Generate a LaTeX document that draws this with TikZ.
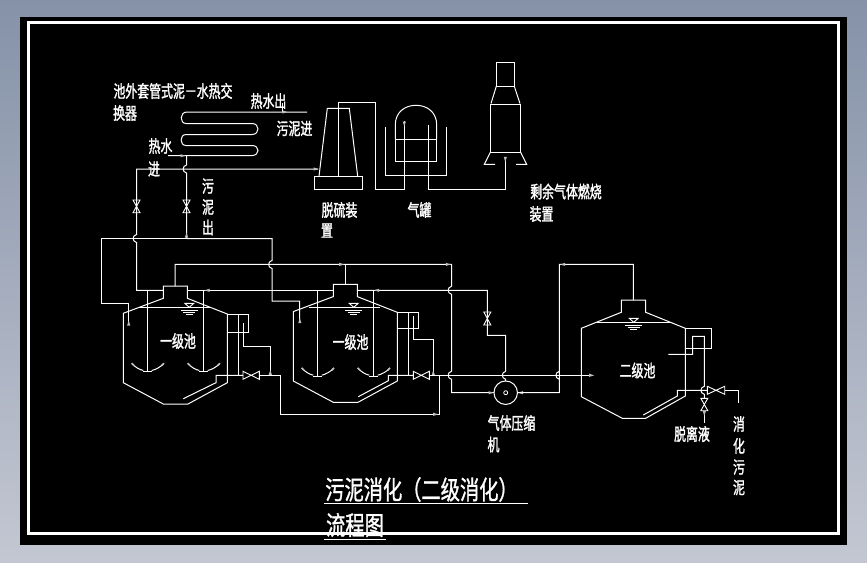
\documentclass[tikz,border=0pt]{standalone}
\usepackage{fontspec}
\newfontfamily\cjklabel[FakeStretch=0.7,FakeBold=1.6]{Noto Sans CJK SC}
\newfontfamily\cjktitle[FakeStretch=0.74,FakeBold=1.2]{Noto Sans CJK SC}
\tikzset{
  pipe/.style={draw=white,line width=1pt,line join=miter},
  lab/.style={text=white,inner sep=0pt,outer sep=0pt,font=\cjklabel\fontsize{17}{18}\selectfont},
  ttl/.style={text=white,inner sep=0pt,outer sep=0pt,font=\cjktitle\fontsize{26}{27}\selectfont},
  tipmark/.style={fill=lightgray,draw=none},
  compbody/.style={circle,draw=white,line width=1pt,minimum size=23.5pt,inner sep=0pt,outer sep=0pt}
}
% vertical pipe segment with a small jump over a crossing
\def\vj#1#2{-- (#1,#2-4) .. controls (#1-4.5,#2-3) and (#1-4.5,#2+3) .. (#1,#2+4)}
\newcommand{\hvalve}[3]{\draw[pipe,line width=.9pt] (#1,#3-4) -- (#2,#3+4) -- (#2,#3-4) -- (#1,#3+4) -- cycle;}
\newcommand{\vvalve}[3]{\draw[pipe,line width=.9pt] (#1-3.5,#2) -- (#1+3.5,#3) -- (#1-3.5,#3) -- (#1+3.5,#2) -- cycle;}
\newcommand{\tipmk}[3]{\fill[tipmark,shift={(#1,#2)},rotate=#3] (2.5,0) -- (-2.5,1.6) -- (-2.5,-1.6) -- cycle;}
\newcommand{\watersym}[2]{%
  \draw[pipe,line width=.9pt] (#1-4.5,#2-4) -- (#1+4.5,#2-4) -- (#1,#2) -- cycle;
  \draw[pipe,line width=.9pt] (#1-8.5,#2+3) -- (#1+8.5,#2+3) (#1-6,#2+5) -- (#1+6,#2+5) (#1-3.5,#2+7.5) -- (#1+3.5,#2+7.5);}
% first-stage tank: shift x, shift y of the shell, shift y of the stirrers
\newcommand{\stagetank}[3]{%
  \begin{scope}[shift={(#1,#2)}]
    \draw[pipe] (163.3,298.3) -- (163.3,286) -- (187.3,286) -- (187.3,298.3)
      -- (227.3,314) -- (227.3,382.7) -- (188,404) -- (163.3,404) -- (123.3,382.7)
      -- (123.3,313.3) -- cycle;
  \end{scope}
  \begin{scope}[shift={(#1,#3)}]
    \draw[pipe] (147.3,290.3-#3) -- (147.3,371.3) (143.3,371.3) -- (151.7,371.3)
      (203.3,290.3-#3) -- (203.3,371.3) (199.3,371.3) -- (207.7,371.3);
    \draw[pipe] (131.7,363.3) .. controls (135,367) and (139,369.5) .. (143.3,370.5);
    \draw[pipe] (164,363.3) .. controls (160.5,367) and (156,369.5) .. (151.7,370.5);
    \draw[pipe] (187.7,363.3) .. controls (191,367) and (195,369.5) .. (199.3,370.5);
    \draw[pipe] (220,363.3) .. controls (216.5,367) and (212,369.5) .. (207.7,370.5);
    \draw[lightgray,line width=1.6pt] (131.7,363.3) -- (134,365.5) (164,363.3) -- (161.7,365.5)
      (187.7,363.3) -- (190,365.5) (220,363.3) -- (217.7,365.5);
  \end{scope}}
\begin{document}
\begin{tikzpicture}[x=1pt,y=-1pt]
\useasboundingbox (0,0) rectangle (867,562);
\shade[top color={rgb,255:red,133;green,146;blue,168},bottom color={rgb,255:red,195;green,199;blue,210}] (0,0) rectangle (867,562);
\fill[black] (20,17) rectangle (847,545);
\draw[white,line width=2.6pt] (28.5,22.5) rectangle (838.5,533.5);

% heat exchanger coil
\draw[pipe] (307,112) -- (187,112) .. controls (179.5,112) and (179.5,123.5) .. (186,123.5)
  -- (252,123.5) .. controls (260,123.5) and (260,134.5) .. (252,134.5)
  -- (186,134.5) .. controls (179.5,134.5) and (179.5,145.5) .. (186,145.5)
  -- (252,145.5) .. controls (260,145.5) and (260,155.5) .. (252,155.5) -- (168,155.5);
\draw[pipe] (282,103) -- (282,112);
\draw[pipe] (186.5,155.5) \vj{186.5}{169} -- (186.5,238.5);
\draw[pipe] (318,169) -- (136.5,169) -- (136.5,234.5) .. controls (132,235.5) and (132,241.5) .. (136.5,242.5) -- (136.5,290.3) -- (163.3,290.3);
\vvalve{136.5}{200}{212.7}
\vvalve{186.5}{200}{212.7}
\tipmk{285}{112}{0}
\tipmk{183}{155.7}{0}
\tipmk{316}{169}{0}
\tipmk{186.5}{235}{90}

% desulfuriser
\draw[pipe] (314.3,176.3) rectangle (362.3,189.3);
\draw[pipe] (319,176.3) -- (327.3,108.3) -- (349.3,108.3) -- (357.7,176.3);
\draw[pipe] (338.3,176.3) -- (338.3,102.3) -- (375.3,102.3) -- (375.3,189.3) -- (404.3,189.3) -- (404.3,120.7);
\tipmk{404.3}{124}{-90}

% gas holder
\draw[pipe] (385.3,127.3) -- (385.3,175.7) -- (446.7,175.7) -- (446.7,127.3);
\draw[pipe] (395.3,139.3) -- (395.3,161.3) -- (436.7,161.3) -- (436.7,139.3) -- cycle;
\draw[pipe] (395.3,139.3) -- (395.3,125) .. controls (395.3,112) and (405,105.3) .. (416,105.3)
  .. controls (427,105.3) and (436.7,112) .. (436.7,125) -- (436.7,139.3);
\draw[pipe] (428.3,125) -- (428.3,189.3) -- (505.3,189.3) -- (505.3,156.7);
\tipmk{505.3}{159.3}{-90}

% burner
\draw[pipe] (496.3,62.3) rectangle (514.3,86.3);
\draw[pipe] (496.3,86.3) -- (491,103.5) (514.3,86.3) -- (520,103.5);
\draw[pipe] (490.3,104) rectangle (520.7,152.3);
\draw[pipe] (490.3,152.3) -- (484.3,164.3) -- (495,164.3);
\draw[pipe] (520.7,152.3) -- (526.7,164.3) -- (516,164.3);

% tanks
\stagetank{0}{0}{0}
\stagetank{170}{-1.7}{4.7}
\draw[pipe] (139.3,307.3) -- (210,307.3);
\draw[pipe] (309.3,307.3) -- (380,307.3);
\watersym{189.3}{307.3}
\watersym{353.7}{307.3}

% pipes between tanks
\draw[pipe] (186.5,238.5) -- (101.3,238.5) -- (101.3,303) -- (128,303) -- (128,325);
\draw[pipe] (186.5,238.5) -- (272,238.5) \vj{272}{264.5} -- (272,301) -- (299.5,301) -- (299.5,322);
\tipmk{128.7}{323}{90}
\tipmk{299.8}{320.7}{90}
\draw[pipe] (175,286) -- (175,264.4) -- (447.7,264.4) -- (451.5,264.4) \vj{451.5}{290.3} \vj{451.5}{375.3} -- (451.5,392.7) -- (494,392.7);
\draw[pipe] (345,264.4) -- (345,284.3);
\draw[pipe] (187.3,290.3) -- (333.3,290.3);
\draw[pipe] (357.3,290.3) -- (487.3,290.3) -- (487.3,335.3) -- (505.7,335.3) \vj{505.7}{375.3} -- (505.7,381);
\vvalve{487.3}{312}{325}
\tipmk{341.7}{264.4}{0}
\tipmk{448.3}{264.4}{0}
\tipmk{207}{290.3}{180}
\tipmk{376.7}{290.3}{180}

% overflow boxes tank 1
\draw[pipe] (227.3,314.3) rectangle (248.7,332.3);
\draw[pipe] (238.3,314.3) -- (238.3,375.3);
\draw[pipe] (243.3,323.3) -- (243.3,346.3) -- (270.3,346.3) -- (270.3,375.3);
\tipmk{270.3}{372.3}{90}
\draw[pipe] (183.3,398.7) -- (216,382.7) -- (216,375.3) -- (243,375.3);
\hvalve{243}{259.3}{375.3}
\draw[pipe] (259.3,375.3) -- (280.3,375.3) -- (280.3,414.3) -- (439.3,414.3) -- (439.3,375.3);
\tipmk{435.7}{414.3}{0}
% overflow boxes tank 2
\draw[pipe] (397.3,312.3) rectangle (418.7,328.7);
\draw[pipe] (408.3,312.3) -- (408.3,375.3);
\draw[pipe] (413.7,315.7) -- (413.7,339.3) -- (433.3,339.3) -- (433.3,375.3);
\tipmk{433.3}{372.7}{90}
\draw[pipe] (358.3,396.7) -- (388.3,380.7) -- (388.3,375.3) -- (413.3,375.3);
\hvalve{413.3}{429.3}{375.3}
\draw[pipe] (429.3,375.3) -- (593.3,375.3);
\tipmk{591.7}{375.3}{0}

% compressor
\node[compbody] (comp) at (505.7,392.7) {};
\node[circle,draw=white,line width=.8pt,minimum size=4pt,inner sep=0pt] (compeye) at (505.7,392.7) {};
\tipmk{491}{392.7}{0}
\tipmk{520.5}{392.7}{180}
\draw[pipe] (comp.east) -- (559.3,392.7) \vj{559.3}{375.3} -- (559.3,264.4) -- (633.3,264.4) -- (633.3,300);
\tipmk{562.7}{264.4}{180}

% second-stage tank
\draw[pipe] (621.3,312.3) -- (621.3,300) -- (645.7,300) -- (645.7,312.3) -- (685.3,328.3)
  -- (685.3,396) -- (645.7,418.3) -- (622.3,418.3) -- (581.3,396.7) -- (581.3,328.3) -- cycle;
\draw[pipe] (597.3,322.3) -- (670,322.3);
\watersym{633.7}{322.3}
\draw[pipe] (685.3,328.3) rectangle (711.7,348.3);
\draw[pipe] (668.3,354.3) -- (692.7,354.3) -- (692.7,336.3) -- (704.3,336.3) \vj{704.3}{390.3} -- (704.3,398.3);
\vvalve{704.3}{398.3}{410.7}
\draw[pipe] (704.3,410.7) -- (704.3,422.7);
\tipmk{704.3}{413.5}{-90}
\draw[pipe] (643.3,415) -- (677.3,396) -- (677.3,390.3) -- (707.3,390.3);
\hvalve{707.3}{724.7}{390.3}
\draw[pipe] (724.7,390.3) -- (738.3,390.3) -- (738.3,403.3);

% labels
\node[lab] (t1) at (173,91) {池外套管式泥－水热交};
\node[lab] (t2) at (125,113) {换器};
\node[lab] (t3) at (268.5,101) {热水出};
\node[lab] (t4) at (294.5,128.5) {污泥进};
\node[lab] (t5) at (160.5,146) {热水};
\node[lab] (t6) at (154,169) {进};
\node[lab] (t7) at (208,186) {污};
\node[lab] (t8) at (208,207) {泥};
\node[lab] (t9) at (208,227.5) {出};
\node[lab] (t10) at (339.5,210) {脱硫装};
\node[lab] (t11) at (327,230.5) {置};
\node[lab] (t12) at (419.5,210) {气罐};
\node[lab] (t13) at (566,191.5) {剩余气体燃烧};
\node[lab] (t14) at (541.5,214) {装置};
\node[lab] (t15) at (178,341) {一级池};
\node[lab] (t16) at (350.5,342) {一级池};
\node[lab] (t17) at (637.5,370.5) {二级池};
\node[lab] (t18) at (511.5,423) {气体压缩};
\node[lab] (t19) at (493.5,444.5) {机};
\node[lab] (t20) at (692,434) {脱离液};
\node[lab] (t21) at (739,424) {消};
\node[lab] (t22) at (739,446) {化};
\node[lab] (t23) at (739,467) {污};
\node[lab] (t24) at (739,487.5) {泥};
\node[ttl] (t25) at (421.5,489.5) {污泥消化（二级消化）};
\node[ttl] (t26) at (355,525) {流程图};
\draw[white,line width=1pt] (324,503.3) -- (528,503.3);
\draw[white,line width=1pt] (324,539) -- (386,539);
\end{tikzpicture}
\end{document}
